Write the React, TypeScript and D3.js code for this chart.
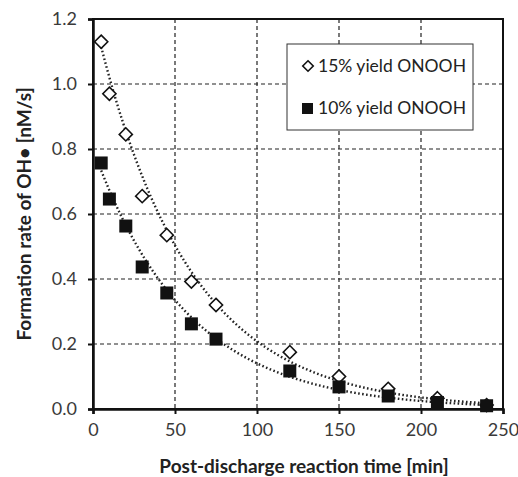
import React, { useEffect, useRef } from "react";
import * as d3 from "d3";

// reaction time [min]
const times = [5, 10, 20, 30, 45, 60, 75, 120, 150, 180, 210, 240];
// formation rate [nM/s]
const yield15 = [1.13, 0.97, 0.845, 0.655, 0.535, 0.392, 0.32, 0.175, 0.1, 0.062, 0.033, 0.012];
const yield10 = [0.757, 0.646, 0.563, 0.437, 0.357, 0.262, 0.215, 0.117, 0.068, 0.04, 0.02, 0.01];
const xTicks = [0, 50, 100, 150, 200, 250];
const yTicks = [0, 0.2, 0.4, 0.6, 0.8, 1.0, 1.2];
const legendLabels = ["15% yield ONOOH", "10% yield ONOOH"];

const W = 518;
const H = 477;
const margin = { top: 19, right: 15, bottom: 68, left: 93 };
const FONT = "Lato, 'Open Sans', sans-serif";

// exponential trendline, least squares on ln(y)
function expFit(xs: number[], ys: number[]) {
  const n = xs.length;
  const ly = ys.map(Math.log);
  const mx = d3.mean(xs)!;
  const my = d3.mean(ly)!;
  let sxy = 0, sxx = 0;
  for (let i = 0; i < n; i++) {
    sxy += (xs[i] - mx) * (ly[i] - my);
    sxx += (xs[i] - mx) * (xs[i] - mx);
  }
  const b = sxy / sxx;
  const a = Math.exp(my - b * mx);
  return (x: number) => a * Math.exp(b * x);
}

export default function App() {
  const ref = useRef<SVGSVGElement>(null);

  useEffect(() => {
    const svg = d3.select(ref.current);
    svg.selectAll("*").remove();
    const iw = W - margin.left - margin.right;
    const ih = H - margin.top - margin.bottom;

    const x = d3.scaleLinear().domain([0, 250]).range([0, iw]);
    const y = d3.scaleLinear().domain([0, 1.2]).range([ih, 0]);

    const g = svg.append("g").attr("transform", `translate(${margin.left},${margin.top})`);

    // grid
    g.append("g")
      .selectAll("line")
      .data(xTicks.slice(1, -1))
      .join("line")
      .attr("x1", d => x(d)).attr("x2", d => x(d))
      .attr("y1", 0).attr("y2", ih)
      .attr("stroke", "#222").attr("stroke-width", 1.2).attr("stroke-dasharray", "4,3");
    g.append("g")
      .selectAll("line")
      .data(yTicks.slice(1, -1))
      .join("line")
      .attr("y1", d => y(d)).attr("y2", d => y(d))
      .attr("x1", 0).attr("x2", iw)
      .attr("stroke", "#222").attr("stroke-width", 1.2).attr("stroke-dasharray", "4,3");

    // frame
    g.append("rect").attr("width", iw).attr("height", ih)
      .attr("fill", "none").attr("stroke", "#111").attr("stroke-width", 2);

    // axes
    const xAxis = g.append("g").attr("transform", `translate(0,${ih})`)
      .call(d3.axisBottom(x).tickValues(xTicks).tickSize(5).tickPadding(9).tickFormat(d3.format("d")));
    const yAxis = g.append("g")
      .call(d3.axisLeft(y).tickValues(yTicks).tickSize(5).tickPadding(11).tickFormat(d3.format(".1f")));
    [xAxis, yAxis].forEach(a => {
      a.select(".domain").attr("stroke", "#111").attr("stroke-width", 2.5);
      a.selectAll(".tick line").attr("stroke", "#111").attr("stroke-width", 2);
      a.selectAll("text").attr("font-family", FONT).attr("font-size", 18).attr("fill", "#3a3a3a");
    });

    // trendlines
    const xs = d3.range(5, 240.5, 1);
    [yield15, yield10].forEach(vals => {
      const f = expFit(times, vals);
      g.append("path")
        .datum(xs)
        .attr("d", d3.line<number>().x(d => x(d)).y(d => y(f(d))))
        .attr("fill", "none").attr("stroke", "#222").attr("stroke-width", 2.4)
        .attr("stroke-dasharray", "1.6,2.4").attr("stroke-linecap", "butt");
    });

    // markers
    const diamond = d3.symbol().type(d3.symbolDiamond2).size(110);
    g.append("g").selectAll("path").data(times).join("path")
      .attr("transform", (d, i) => `translate(${x(d)},${y(yield15[i])})`)
      .attr("d", diamond()!)
      .attr("fill", "#fff").attr("stroke", "#111").attr("stroke-width", 1.6);
    g.append("g").selectAll("rect").data(times).join("rect")
      .attr("x", d => x(d) - 6.5)
      .attr("y", (d, i) => y(yield10[i]) - 6.5)
      .attr("width", 13).attr("height", 13).attr("fill", "#111");

    // legend
    const lg = svg.append("g").attr("transform", "translate(287,44)");
    lg.append("rect").attr("width", 186).attr("height", 86)
      .attr("fill", "#fff").attr("stroke", "#333").attr("stroke-width", 1);
    lg.append("path").attr("transform", "translate(21,22)")
      .attr("d", d3.symbol().type(d3.symbolDiamond2).size(70)()!)
      .attr("fill", "#fff").attr("stroke", "#111").attr("stroke-width", 1.6);
    lg.append("rect").attr("x", 15).attr("y", 59).attr("width", 11).attr("height", 11).attr("fill", "#111");
    legendLabels.forEach((t, i) => {
      lg.append("text").attr("x", 31).attr("y", 28 + i * 42)
        .attr("font-family", FONT).attr("font-size", 17.5).attr("fill", "#222").text(t);
    });

    // titles
    svg.append("text")
      .attr("x", margin.left + iw / 2 + 6).attr("y", 473)
      .attr("text-anchor", "middle").attr("font-family", FONT)
      .attr("font-size", 19).attr("font-weight", "bold").attr("fill", "#222")
      .text("Post-discharge reaction time [min]");
    svg.append("text")
      .attr("transform", `translate(31,${margin.top + ih / 2}) rotate(-90)`)
      .attr("text-anchor", "middle").attr("font-family", FONT)
      .attr("font-size", 19).attr("font-weight", "bold").attr("fill", "#222")
      .text("Formation rate of OH\u2022 [nM/s]");
  }, []);

  return (
    <svg ref={ref} width={W} height={H} style={{ position: "absolute", left: 0, top: 0, background: "#fff" }} />
  );
}
